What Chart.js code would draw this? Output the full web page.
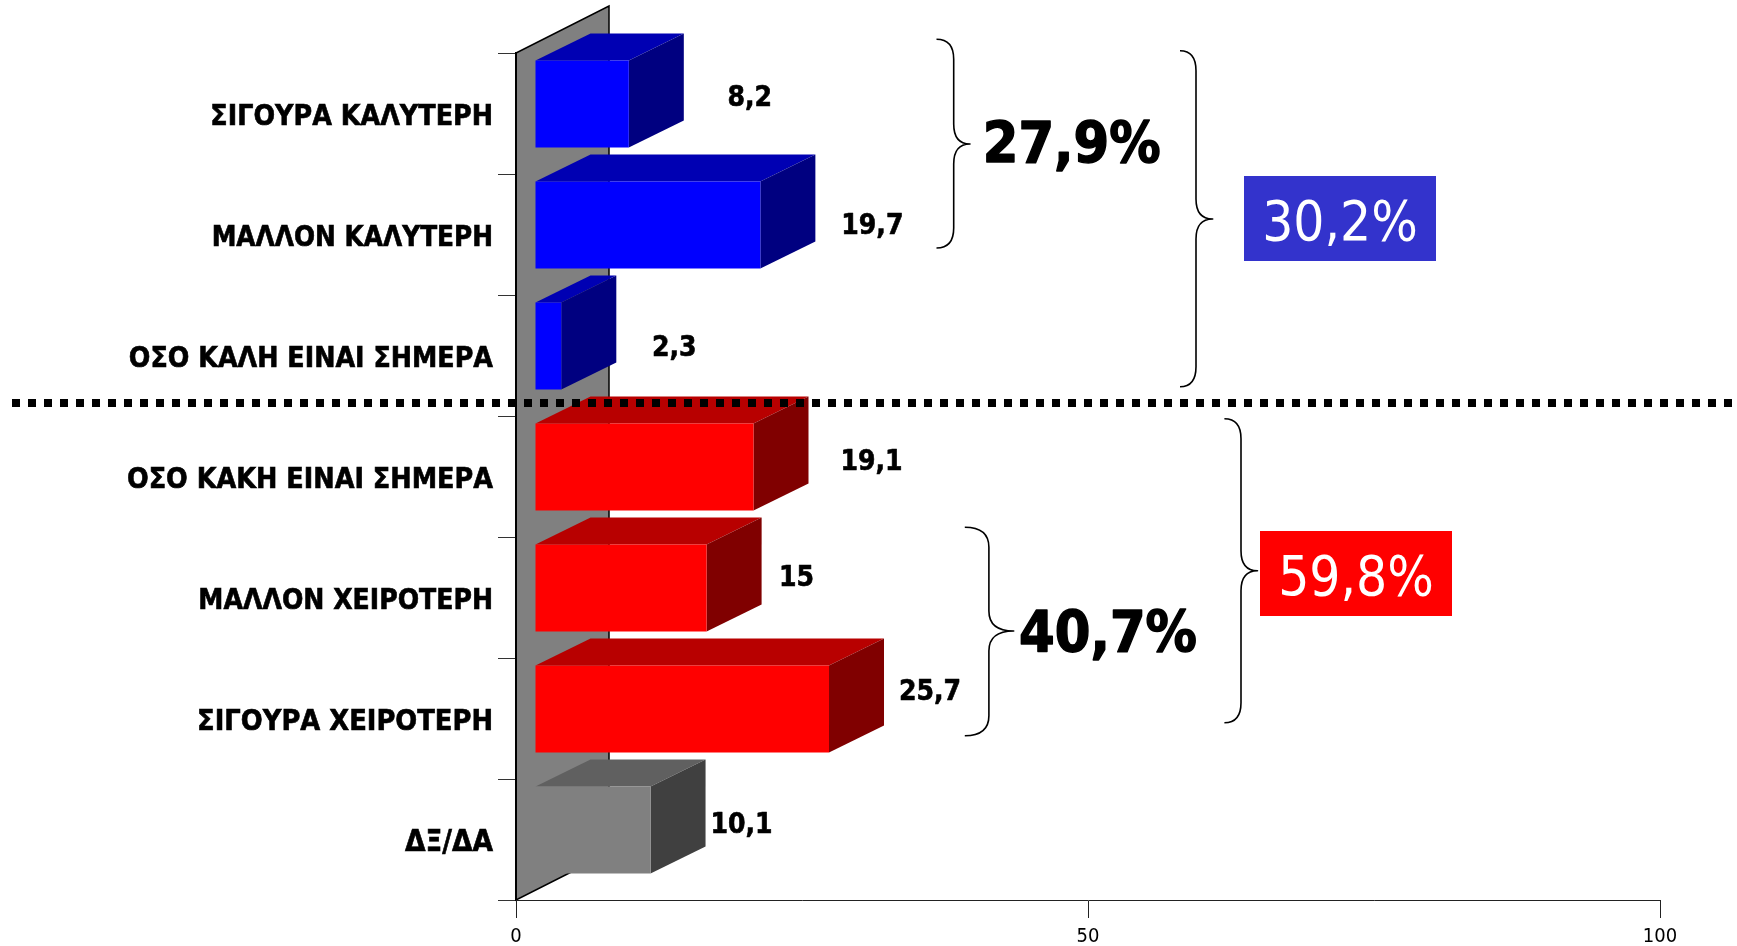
<!DOCTYPE html>
<html lang="el">
<head>
<meta charset="utf-8">
<title>Chart</title>
<style>html,body{margin:0;padding:0;background:#fff}canvas{display:block}</style>
<script src="https://cdn.jsdelivr.net/npm/chart.js@4/dist/chart.umd.min.js"></script>
</head>
<body>
<canvas id="c" width="1737" height="946"></canvas>
<script>
const categories = ["ΣΙΓΟΥΡΑ ΚΑΛΥΤΕΡΗ","ΜΑΛΛΟΝ ΚΑΛΥΤΕΡΗ","ΟΣΟ ΚΑΛΗ ΕΙΝΑΙ ΣΗΜΕΡΑ","ΟΣΟ ΚΑΚΗ ΕΙΝΑΙ ΣΗΜΕΡΑ","ΜΑΛΛΟΝ ΧΕΙΡΟΤΕΡΗ","ΣΙΓΟΥΡΑ ΧΕΙΡΟΤΕΡΗ","ΔΞ/ΔΑ"];
const values = [8.2,19.7,2.3,19.1,15,25.7,10.1];
const xTicks = [0,50,100];
const frontColors = ["#0000FF","#0000FF","#0000FF","#FF0000","#FF0000","#FF0000","#808080"];
const topColors   = ["#0000B3","#0000B3","#0000B3","#B80000","#B80000","#B80000","#606060"];
const sideColors  = ["#000080","#000080","#000080","#800000","#800000","#800000","#404040"];
const categoryFontSizes = [28.3,27.6,28.25,28.4,28,28.7,29.5];
const labelDx = [140,131,132,137,109,120,110];
const labelDy = [-8,-0.5,0.5,-7,-12,-18.5,-6.5];
const FONT = "'DejaVu Sans Condensed','DejaVu Sans',sans-serif";
const subtotals = [
  {text:"27,9%",x:1071.7,y:162.7},
  {text:"40,7%",x:1108,y:651.7}
];
const totals = [
  {text:"30,2%",x:1340,y:240,box:[1244,176,192,85],fill:"#3333CC"},
  {text:"59,8%",x:1356,y:595,box:[1260,531,192,85],fill:"#FF0000"}
];
const braces = [
  [936.5,953.7,970,39.3,144,248],
  [1180,1196,1212.7,50.7,219,386.7],
  [964.8,988.9,1013.7,527.3,631,735.7],
  [1224.4,1241,1257.5,418.7,570.7,722.7]
];

const WALL_DX = 93, WALL_DY = 47, BAR_DX = 55, BAR_DY = 27, SHIFT_X = 19, SHIFT_Y = -9.5;

function poly(ctx, pts, fill) {
  ctx.beginPath();
  pts.forEach((p,i)=> i ? ctx.lineTo(p[0],p[1]) : ctx.moveTo(p[0],p[1]));
  ctx.closePath();
  ctx.fillStyle = fill;
  ctx.fill();
}
function brace(ctx, b) {
  const [x0,sx,tx,y0,ty,y1] = b, r = 20;
  ctx.beginPath();
  ctx.moveTo(x0,y0);
  ctx.quadraticCurveTo(sx,y0,sx,y0+r);
  ctx.lineTo(sx,ty-r);
  ctx.quadraticCurveTo(sx,ty,tx,ty);
  ctx.quadraticCurveTo(sx,ty,sx,ty+r);
  ctx.lineTo(sx,y1-r);
  ctx.quadraticCurveTo(sx,y1,x0,y1);
  ctx.strokeStyle = "#000";
  ctx.lineWidth = 1.6;
  ctx.stroke();
}

const threeD = {
  id:"threeD",
  beforeDraw(chart){
    const {ctx,chartArea:a} = chart;
    ctx.save();
    poly(ctx,[[a.left,a.bottom],[a.left,a.top],[a.left+WALL_DX,a.top-WALL_DY],[a.left+WALL_DX,a.bottom-WALL_DY]],"#808080");
    ctx.strokeStyle="#000";
    ctx.lineWidth=1.5;
    ctx.stroke();
    ctx.restore();
  },
  beforeDatasetDraw(chart,args){
    const ctx = chart.ctx;
    ctx.save();
    ctx.translate(SHIFT_X,SHIFT_Y);
    chart.getDatasetMeta(args.index).data.forEach((el,i)=>{
      const t = el.y-el.height/2, b = el.y+el.height/2, l = el.base, r = el.x;
      poly(ctx,[[l,t],[l+BAR_DX,t-BAR_DY],[r+BAR_DX,t-BAR_DY],[r,t]],topColors[i]);
      poly(ctx,[[r,t],[r+BAR_DX,t-BAR_DY],[r+BAR_DX,b-BAR_DY],[r,b]],sideColors[i]);
    });
  },
  afterDatasetDraw(chart){ chart.ctx.restore(); },
  afterDatasetsDraw(chart){
    const ctx = chart.ctx;
    ctx.save();
    ctx.textBaseline="alphabetic";
    ctx.textAlign="center";
    ctx.fillStyle="#000";
    ctx.strokeStyle="#000";
    ctx.lineJoin="round";
    ctx.font="bold 28px "+FONT;
    ctx.lineWidth=0.6;
    chart.getDatasetMeta(0).data.forEach((el,i)=>{
      const s = String(values[i]).replace(".",",");
      ctx.fillText(s,el.x+labelDx[i],el.y+labelDy[i]);
      ctx.strokeText(s,el.x+labelDx[i],el.y+labelDy[i]);
    });
    braces.forEach(b=>brace(ctx,b));
    ctx.fillStyle="#000";
    ctx.strokeStyle="#000";
    ctx.font="bold 57px "+FONT;
    ctx.lineWidth=1.4;
    subtotals.forEach(s=>{ ctx.fillText(s.text,s.x,s.y); ctx.strokeText(s.text,s.x,s.y); });
    ctx.font="54.5px "+FONT;
    totals.forEach(s=>{
      ctx.fillStyle=s.fill;
      ctx.fillRect(s.box[0],s.box[1],s.box[2],s.box[3]);
      ctx.fillStyle="#fff";
      ctx.fillText(s.text,s.x,s.y);
    });
    ctx.beginPath();
    ctx.setLineDash([8,8]);
    ctx.lineWidth=8;
    ctx.strokeStyle="#000";
    ctx.moveTo(12,403);
    ctx.lineTo(1737,403);
    ctx.stroke();
    ctx.restore();
  }
};

new Chart(document.getElementById("c"),{
  type:"bar",
  data:{labels:categories,datasets:[{data:values,backgroundColor:frontColors,borderWidth:0,barPercentage:0.72,categoryPercentage:1,clip:false}]},
  plugins:[threeD],
  options:{
    indexAxis:"y",
    responsive:false,
    animation:false,
    devicePixelRatio:1,
    layout:{padding:{top:53,right:77,left:0,bottom:0}},
    plugins:{legend:{display:false},tooltip:{enabled:false},title:{display:false}},
    scales:{
      y:{
        type:"category",
        offset:true,
        afterFit(s){ s.width=516; },
        grid:{offset:true,drawOnChartArea:false,tickLength:18,color:"#333",lineWidth:1},
        border:{color:"#000",width:2},
        ticks:{padding:5,labelOffset:4,color:"#000",textStrokeColor:"#000",textStrokeWidth:0.6,
          font:c=>({family:FONT,size:categoryFontSizes[c.index]||28,weight:"bold"}),autoSkip:false}
      },
      x:{
        type:"linear",min:0,max:100,
        afterFit(s){ s.height=46; },
        afterBuildTicks(s){ s.ticks = xTicks.map(v=>({value:v})); },
        grid:{drawOnChartArea:false,tickLength:18,color:"#222",lineWidth:1},
        border:{color:"#222",width:1},
        ticks:{padding:7,color:"#000",maxRotation:0,font:{family:FONT,size:20}}
      }
    }
  }
});
</script>
</body>
</html>
